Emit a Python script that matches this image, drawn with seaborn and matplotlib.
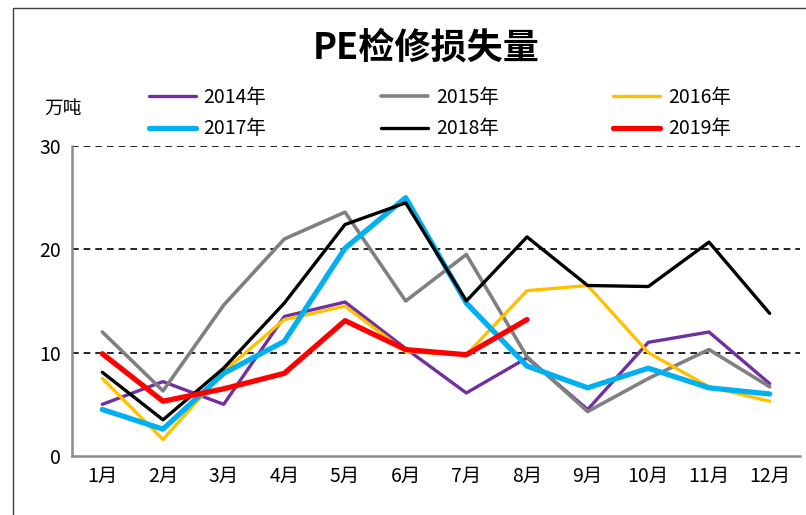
import numpy as np
import pandas as pd
import matplotlib
matplotlib.use("Agg")
import matplotlib.pyplot as plt
from matplotlib.patches import Rectangle
import seaborn as sns

months = ["1月", "2月", "3月", "4月", "5月", "6月", "7月", "8月", "9月", "10月", "11月", "12月"]
years = ["2014年", "2015年", "2016年", "2017年", "2018年", "2019年"]

y2014 = [5.0, 7.2, 5.0, 13.5, 14.9, 10.4, 6.1, 9.5, 4.5, 11.0, 12.0, 7.0]
y2015 = [12.0, 6.3, 14.6, 21.0, 23.6, 15.0, 19.5, 9.6, 4.3, 7.5, 10.3, 6.7]
y2016 = [7.5, 1.6, 8.2, 13.2, 14.5, 10.1, 9.8, 16.0, 16.5, 10.0, 6.7, 5.3]
y2017 = [4.5, 2.6, 8.0, 11.1, 20.1, 25.0, 14.8, 8.7, 6.6, 8.5, 6.6, 6.0]
y2018 = [8.1, 3.5, 8.5, 14.8, 22.4, 24.5, 15.0, 21.2, 16.5, 16.4, 20.7, 13.8]
y2019 = [9.9, 5.3, 6.5, 8.0, 13.1, 10.3, 9.8, 13.2]

series = {"2014年": y2014, "2015年": y2015, "2016年": y2016,
          "2017年": y2017, "2018年": y2018, "2019年": y2019}
colors = {"2014年": "#7030A0", "2015年": "#808080", "2016年": "#FFC000",
          "2017年": "#00B0F0", "2018年": "#000000", "2019年": "#FF0000"}
widths = {"2014年": 2.4, "2015年": 2.6, "2016年": 2.4,
          "2017年": 3.8, "2018年": 2.4, "2019年": 3.8}

sns.set_style("white")
plt.rcParams["font.family"] = ["Noto Sans CJK SC", "DejaVu Sans"]
plt.rcParams["text.color"] = "black"
plt.rcParams["xtick.labelcolor"] = "black"
plt.rcParams["ytick.labelcolor"] = "black"

fig = plt.figure(figsize=(8.06, 5.15), dpi=100)
ax = fig.add_axes([72 / 806, 1 - 456 / 515, 728 / 806, 310 / 515])

for yr in years:
    vals = series[yr]
    df = pd.DataFrame({"x": np.arange(len(vals)), "y": vals})
    sns.lineplot(data=df, x="x", y="y", color=colors[yr], linewidth=widths[yr],
                 label=yr, ax=ax, legend=False)

ax.set_xlim(-0.5, 11.5)
ax.set_ylim(0, 30)
ax.set_yticks([0, 10, 20, 30])
ax.set_xticks(np.arange(-0.5, 12, 1))
ax.set_xticklabels([])
ax.set_xticks(np.arange(12), minor=True)
ax.set_xticklabels(months, minor=True, fontsize=14)
ax.tick_params(axis="x", which="major", length=6, width=1.5, color="#8c8c8c", direction="out")
ax.tick_params(axis="x", which="minor", length=0, pad=7)
ax.tick_params(axis="y", length=5, width=1.5, color="#8c8c8c", labelsize=14, pad=3)
ax.set_xlabel("")
ax.set_ylabel("")

for yv in [10, 20, 30]:
    ax.axhline(yv, color="black", linestyle=(0, (4, 3)), linewidth=1.2, zorder=0)

for s in ["top", "right"]:
    ax.spines[s].set_visible(False)
for s in ["left", "bottom"]:
    ax.spines[s].set_color("#8c8c8c")
    ax.spines[s].set_linewidth(1.8)

# legend: two rows, three columns
order = ["2014年", "2017年", "2015年", "2018年", "2016年", "2019年"]
lines = {l.get_label(): l for l in ax.get_lines()}
handles = [lines[k] for k in order]
fig.legend(handles, order, ncol=3, loc="center", bbox_to_anchor=(440 / 806, 1 - 113 / 515),
           frameon=False, fontsize=14, handlelength=2.4, handletextpad=0.4,
           columnspacing=5.9, labelspacing=0.55)

fig.text(426 / 806, 1 - 48 / 515, "PE检修损失量", ha="center", va="center",
         fontsize=26, fontweight="bold")
fig.text(63 / 806, 1 - 108 / 515, "万吨", ha="center", va="center", fontsize=13.5)

fig.patches.append(Rectangle((13 / 806, -0.1), 1.2, 1 - 8 / 515 + 0.1,
                             transform=fig.transFigure, fill=False,
                             edgecolor="#404040", linewidth=1.0))

fig.savefig("out.png", dpi=100)
